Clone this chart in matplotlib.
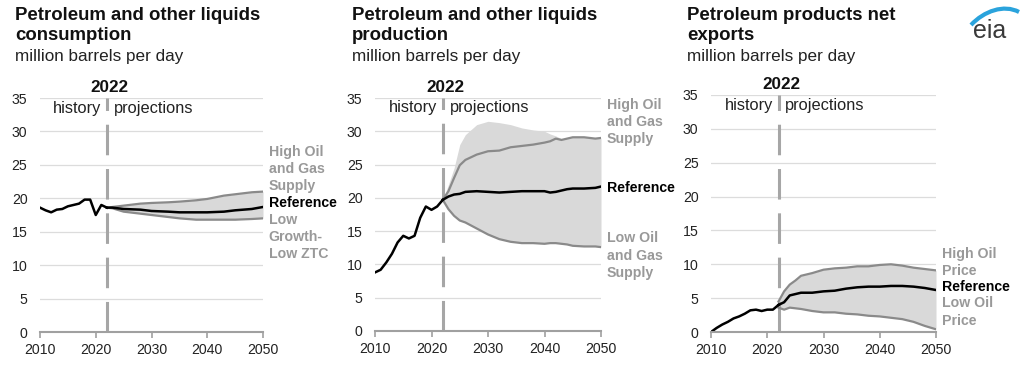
import numpy as np
import matplotlib.pyplot as plt
from matplotlib.patches import PathPatch
from matplotlib.path import Path

plt.rcParams['font.family'] = ['Liberation Sans', 'DejaVu Sans']

# consumption
cons_hist_years = [2010, 2011, 2012, 2013, 2014, 2015, 2016, 2017, 2018, 2019, 2020, 2021, 2022]
cons_hist = [18.6, 18.2, 17.9, 18.3, 18.4, 18.8, 19.0, 19.2, 19.8, 19.8, 17.5, 19.0, 18.6]
cons_proj_years = [2022, 2023, 2025, 2028, 2030, 2033, 2035, 2038, 2040, 2043, 2045, 2048, 2050]
cons_ref = [18.6, 18.6, 18.4, 18.3, 18.1, 18.0, 17.9, 17.9, 17.9, 18.0, 18.2, 18.4, 18.7]
cons_high = [18.6, 18.7, 18.9, 19.2, 19.3, 19.4, 19.5, 19.7, 19.9, 20.4, 20.6, 20.9, 21.0]
cons_low = [18.6, 18.5, 18.0, 17.7, 17.5, 17.2, 17.0, 16.8, 16.8, 16.8, 16.8, 16.9, 17.0]

# production
prod_hist_years = [2010, 2011, 2012, 2013, 2014, 2015, 2016, 2017, 2018, 2019, 2020, 2021, 2022]
prod_hist = [8.8, 9.2, 10.3, 11.6, 13.3, 14.3, 13.9, 14.3, 17.0, 18.7, 18.2, 18.7, 19.7]
prod_proj_years = [2022, 2023, 2024, 2025, 2026, 2028, 2030, 2032, 2034, 2036, 2038,
                   2040, 2041, 2042, 2043, 2044, 2045, 2047, 2049, 2050]
prod_ref = [19.7, 20.2, 20.5, 20.6, 20.9, 21.0, 20.9, 20.8, 20.9, 21.0, 21.0,
            21.0, 20.8, 20.9, 21.1, 21.3, 21.4, 21.4, 21.5, 21.7]
prod_high = [19.7, 21.0, 23.0, 24.9, 25.7, 26.5, 27.0, 27.1, 27.6, 27.8, 28.0,
             28.3, 28.5, 28.9, 28.7, 28.9, 29.1, 29.1, 28.9, 29.0]
prod_low = [19.7, 18.3, 17.3, 16.6, 16.3, 15.4, 14.5, 13.8, 13.4, 13.2, 13.2,
            13.1, 13.2, 13.2, 13.1, 13.0, 12.8, 12.7, 12.7, 12.6]
prod_shade_top = [19.7, 22.0, 24.5, 28.0, 29.5, 31.0, 31.5, 31.3, 31.0, 30.5, 30.2,
                  30.0, 29.6, 29.3, 28.9, 28.9, 29.1, 29.1, 28.9, 29.0]

# net exports
exp_hist_years = [2010, 2011, 2012, 2013, 2014, 2015, 2016, 2017, 2018, 2019, 2020, 2021, 2022]
exp_hist = [0.0, 0.6, 1.1, 1.5, 2.0, 2.3, 2.7, 3.2, 3.3, 3.1, 3.3, 3.3, 4.0]
exp_proj_years = [2022, 2023, 2024, 2025, 2026, 2028, 2030, 2032, 2034, 2036, 2038,
                  2040, 2042, 2044, 2046, 2048, 2050]
exp_ref = [4.0, 4.4, 5.4, 5.6, 5.8, 5.8, 6.0, 6.1, 6.4, 6.6, 6.7, 6.7, 6.8, 6.8, 6.7, 6.5, 6.2]
exp_high = [4.5, 6.0, 7.0, 7.6, 8.3, 8.7, 9.2, 9.4, 9.5, 9.7, 9.7, 9.9, 10.0, 9.8, 9.5, 9.3, 9.1]
exp_low = [3.6, 3.3, 3.6, 3.5, 3.4, 3.1, 2.9, 2.9, 2.7, 2.6, 2.4, 2.3, 2.1, 1.9, 1.5, 0.9, 0.4]

panels = [
    dict(title='Petroleum and other liquids\nconsumption', rect=(40, 263, 98, 332), tx=15,
         hy=cons_hist_years, h=cons_hist, py=cons_proj_years, ref=cons_ref,
         high=cons_high, low=cons_low, top=cons_high,
         labels=[('High Oil\nand Gas\nSupply', 24.4, 'gray'), ('Reference', 19.3, 'k'),
                 ('Low\nGrowth-\nLow ZTC', 14.2, 'gray')]),
    dict(title='Petroleum and other liquids\nproduction', rect=(375, 601, 98, 331), tx=352,
         hy=prod_hist_years, h=prod_hist, py=prod_proj_years, ref=prod_ref,
         high=prod_high, low=prod_low, top=prod_shade_top,
         labels=[('High Oil\nand Gas\nSupply', 31.4, 'gray'), ('Reference', 21.5, 'k'),
                 ('Low Oil\nand Gas\nSupply', 11.3, 'gray')]),
    dict(title='Petroleum products net\nexports', rect=(711, 936, 95, 332), tx=687,
         hy=exp_hist_years, h=exp_hist, py=exp_proj_years, ref=exp_ref,
         high=exp_high, low=exp_low, top=exp_high,
         labels=[('High Oil\nPrice', 10.3, 'gray'), ('Reference', 6.6, 'k'),
                 ('Low Oil\nPrice', 2.95, 'gray')]),
]

W, H = 1024, 371
fig = plt.figure(figsize=(W / 100, H / 100), dpi=100)

for p in panels:
    x0, x1, yt, yb = p['rect']
    ax = fig.add_axes([x0 / W, 1 - yb / H, (x1 - x0) / W, (yb - yt) / H])
    ax.fill_between(p['py'], p['low'], p['top'], color='#d9d9d9', lw=0, zorder=1)
    ax.plot(p['py'], p['high'], color='#8a8a8a', lw=1.6, zorder=3)
    ax.plot(p['py'], p['low'], color='#8a8a8a', lw=1.6, zorder=3)
    ax.plot(p['hy'], p['h'], color='k', lw=1.8, zorder=4)
    ax.plot(p['py'], p['ref'], color='k', lw=1.8, zorder=4)
    ax.plot([2022, 2022], [0, 35], color='#a6a6a6', lw=2.2, dashes=(10, 4.5), zorder=2)

    ax.set_xlim(2010, 2050)
    ax.set_ylim(0, 35)
    ax.set_xticks([2010, 2020, 2030, 2040, 2050])
    ax.set_yticks(range(0, 40, 5))
    ax.grid(axis='y', color='#dcdcdc', lw=0.9)
    ax.set_axisbelow(True)
    for s in ['top', 'right', 'left']:
        ax.spines[s].set_visible(False)
    ax.spines['bottom'].set_color('#a0a0a0')
    ax.spines['bottom'].set_linewidth(1.5)
    ax.spines['bottom'].set_zorder(5)
    ax.tick_params(axis='y', length=0, pad=9, labelsize=10.2, labelcolor='#222222')
    ax.tick_params(axis='x', length=4, width=1.2, color='#a0a0a0', pad=4,
                   labelsize=10.2, labelcolor='#222222')

    ax.text(2022.5, 36.6, '2022', ha='center', va='center', fontsize=12.3,
            fontweight='bold', color='#111111')
    ax.text(2021.0, 33.5, 'history', ha='right', va='center', fontsize=11.8, color='#222222',
            bbox=dict(fc='white', ec='none', pad=0.5))
    ax.text(2023.2, 33.5, 'projections', ha='left', va='center', fontsize=11.8, color='#222222',
            bbox=dict(fc='white', ec='none', pad=0.5))

    for txt, y, c in p['labels']:
        ax.annotate(txt, xy=(2050, y), xytext=(4, 0), textcoords='offset points',
                    ha='left', va='center', fontsize=10.2, fontweight='bold',
                    color='#999999' if c == 'gray' else 'k', linespacing=1.3,
                    annotation_clip=False)

    fig.text(p['tx'] / W, 1 - 25.5 / H, p['title'], ha='left', va='center', fontsize=13.4,
             fontweight='bold', color='#111111', linespacing=1.2)
    fig.text(p['tx'] / W, 1 - 57 / H, 'million barrels per day', ha='left', va='center',
             fontsize=12.3, color='#222222')

# eia logo
fig.text(990 / W, 1 - 31 / H, 'eia', ha='center', va='center', fontsize=18, color='#3a3a3a')
verts = [(971 / W, 1 - 25 / H), (984 / W, 1 - 11 / H), (1004 / W, 1 - 4 / H), (1019 / W, 1 - 12 / H)]
arc = Path(verts, [Path.MOVETO, Path.CURVE4, Path.CURVE4, Path.CURVE4])
fig.patches.append(PathPatch(arc, transform=fig.transFigure, fc='none', ec='#2aa3dc', lw=3))

fig.savefig('out.png', dpi=100, facecolor='white')
